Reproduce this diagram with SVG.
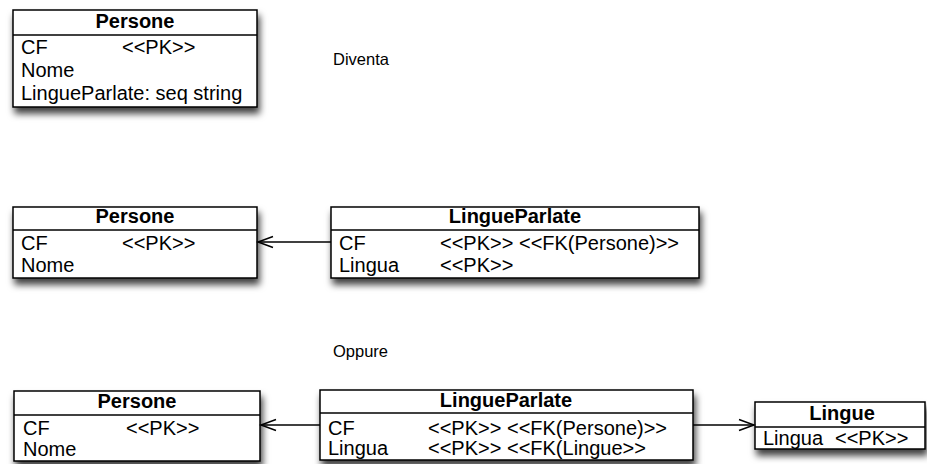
<svg xmlns="http://www.w3.org/2000/svg" width="927" height="464" viewBox="0 0 927 464">
<style>
.box{fill:#fff;stroke:#000;stroke-width:1.5;filter:url(#sh)}
.sep{stroke:#000;stroke-width:1.5}
.t{font-family:"Liberation Sans",Arial,sans-serif;font-size:20px;fill:#000}
.h{font-family:"Liberation Sans",Arial,sans-serif;font-size:20px;font-weight:bold;fill:#000;text-anchor:middle}
.lbl{font-family:"Liberation Sans",Arial,sans-serif;font-size:16.5px;fill:#000}
.con{stroke:#000;stroke-width:1.5;fill:none;marker-end:url(#arr)}
</style>
<defs>
<filter id="sh" x="-10%" y="-20%" width="125%" height="170%">
<feDropShadow dx="2" dy="6" stdDeviation="3.5" flood-color="#000" flood-opacity="0.75"/>
</filter>
<marker id="arr" viewBox="-17 -7 18 14" markerWidth="18" markerHeight="14" refX="0" refY="0" orient="auto" markerUnits="userSpaceOnUse" overflow="visible">
<path d="M-15,-5.5 L0,0 L-15,5.5" fill="none" stroke="#000" stroke-width="1.5"/>
</marker>
</defs>

<g id="persone1">
<rect class="box" x="13" y="10" width="244" height="97"/>
<line class="sep" x1="13" y1="35" x2="257" y2="35"/>
<text class="h" x="135" y="28">Persone</text>
<text class="t" x="21" y="54">CF</text>
<text class="t" x="122" y="54">&lt;&lt;PK&gt;&gt;</text>
<text class="t" x="21" y="77">Nome</text>
<text class="t" x="21" y="100">LingueParlate: seq string</text>
</g>

<text class="lbl" x="333" y="65">Diventa</text>

<g id="persone2">
<rect class="box" x="13" y="207" width="244" height="71"/>
<line class="sep" x1="13" y1="230" x2="257" y2="230"/>
<text class="h" x="135" y="223">Persone</text>
<text class="t" x="21" y="250">CF</text>
<text class="t" x="122" y="250">&lt;&lt;PK&gt;&gt;</text>
<text class="t" x="21" y="272">Nome</text>
</g>

<g id="lingueparlate1">
<rect class="box" x="331" y="207" width="368" height="71"/>
<line class="sep" x1="331" y1="230" x2="699" y2="230"/>
<text class="h" x="515" y="223">LingueParlate</text>
<text class="t" x="339" y="250">CF</text>
<text class="t" x="440" y="250">&lt;&lt;PK&gt;&gt; &lt;&lt;FK(Persone)&gt;&gt;</text>
<text class="t" x="339" y="272">Lingua</text>
<text class="t" x="440" y="272">&lt;&lt;PK&gt;&gt;</text>
</g>

<text class="lbl" x="333" y="357">Oppure</text>

<g id="persone3">
<rect class="box" x="14" y="391" width="246" height="70"/>
<line class="sep" x1="14" y1="415" x2="260" y2="415"/>
<text class="h" x="137" y="408">Persone</text>
<text class="t" x="23" y="435">CF</text>
<text class="t" x="126" y="435">&lt;&lt;PK&gt;&gt;</text>
<text class="t" x="23" y="456">Nome</text>
</g>

<g id="lingueparlate2">
<rect class="box" x="320" y="390" width="373" height="70"/>
<line class="sep" x1="320" y1="413" x2="693" y2="413"/>
<text class="h" x="506" y="407">LingueParlate</text>
<text class="t" x="328" y="435">CF</text>
<text class="t" x="428" y="435">&lt;&lt;PK&gt;&gt; &lt;&lt;FK(Persone)&gt;&gt;</text>
<text class="t" x="328" y="455">Lingua</text>
<text class="t" x="428" y="455">&lt;&lt;PK&gt;&gt; &lt;&lt;FK(Lingue&gt;&gt;</text>
</g>

<g id="lingue">
<rect class="box" x="755" y="402" width="170" height="47"/>
<line class="sep" x1="755" y1="427" x2="925" y2="427"/>
<text class="h" x="842" y="420">Lingue</text>
<text class="t" x="763" y="445">Lingua</text>
<text class="t" x="835" y="445">&lt;&lt;PK&gt;&gt;</text>
</g>

<g id="connectors">
<line class="con" x1="331" y1="242" x2="258" y2="242"/>
<line class="con" x1="320" y1="425" x2="261" y2="425"/>
<line class="con" x1="693" y1="425" x2="754" y2="425"/>
</g>
</svg>
